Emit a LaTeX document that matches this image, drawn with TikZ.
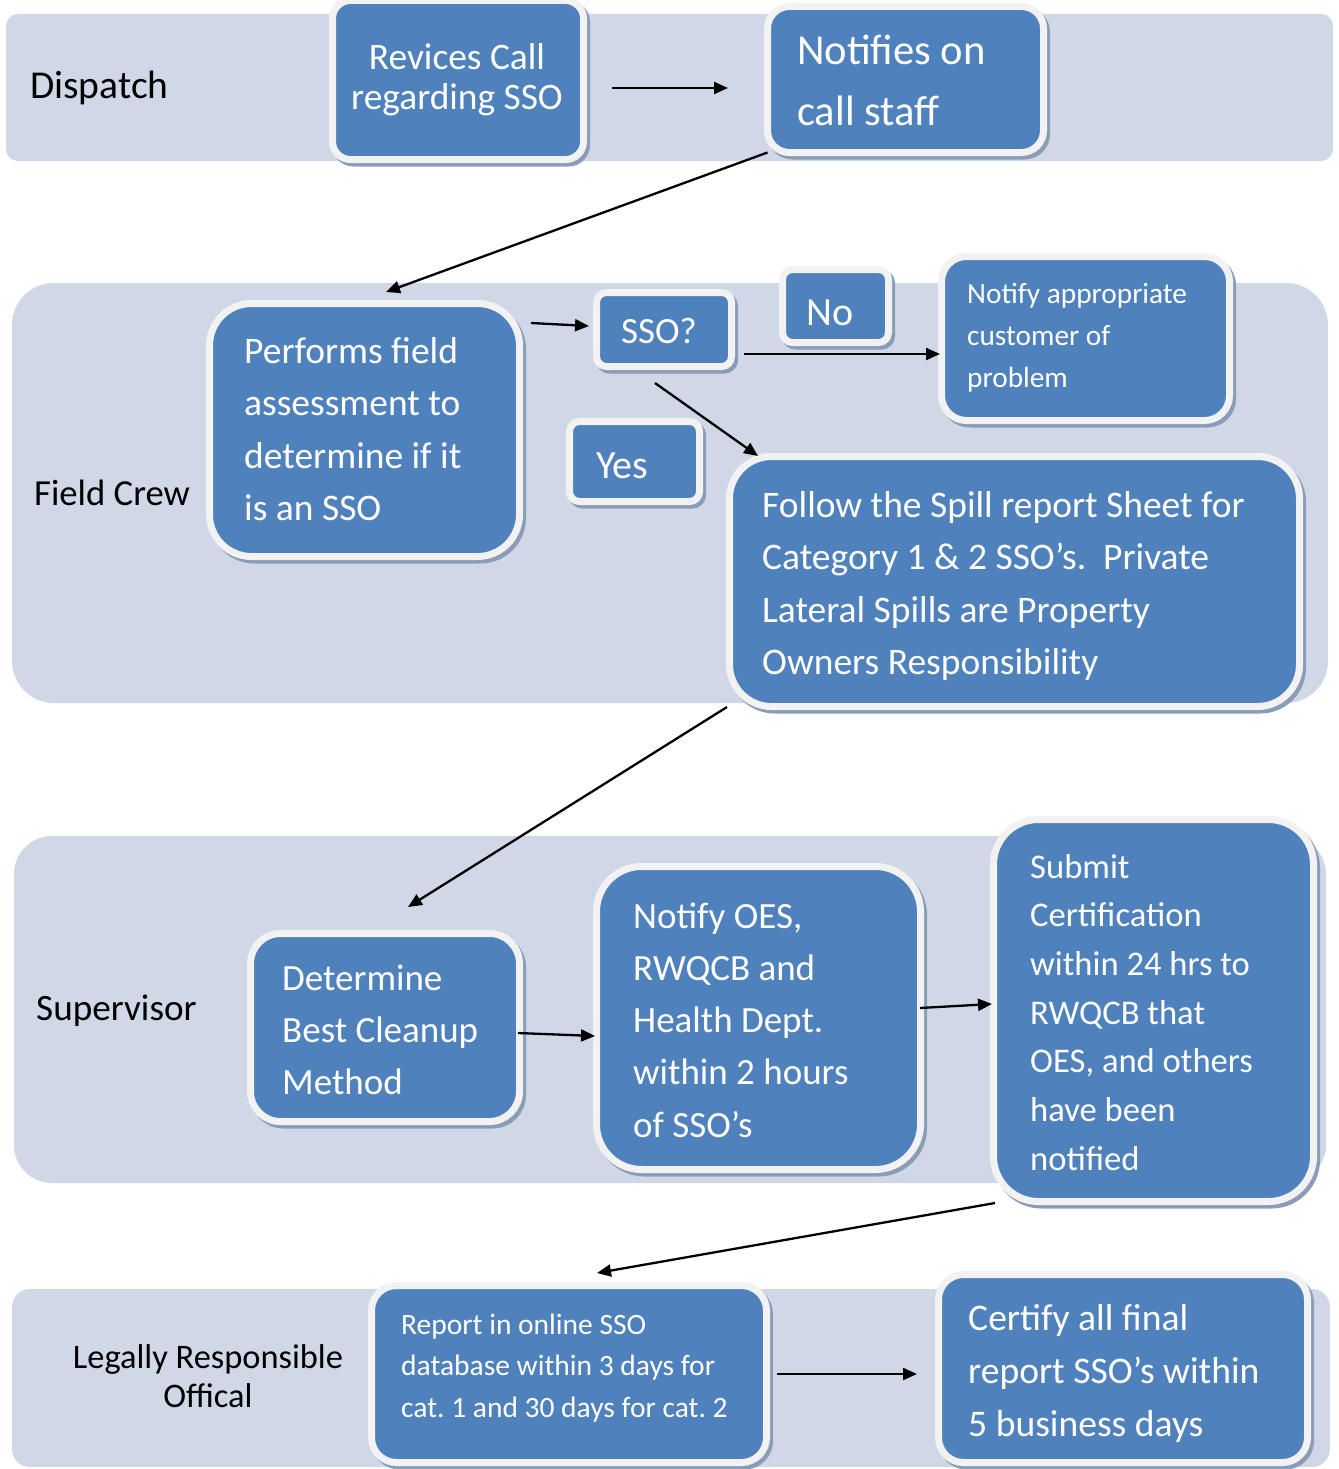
\documentclass[tikz,border=0pt]{standalone}
\usepackage{fontspec}
\setmainfont{Carlito}
\usetikzlibrary{arrows.meta,calc}
\definecolor{lanec}{HTML}{D0D8E8}
\definecolor{boxc}{HTML}{4F81BD}
\definecolor{rimc}{HTML}{F2F2F2}
\definecolor{shc}{HTML}{8B9CB6}
\tikzset{
  lanest/.style={fill=lanec},
  boxst/.style={draw=rimc, fill=boxc, line width=7pt, inner sep=0pt, outer sep=0pt},
  shadowst/.style={draw=shc, fill=shc, line width=7pt},
  arr/.style={-{Triangle[length=14pt,width=12pt]}, line width=2.3pt, black},
  lbl/.style={inner sep=0pt, text=black},
  btxt/.style={inner sep=0pt, text=white},
}
\newcommand\flowbox[6]{%
  \draw[shadowst, rounded corners=#6] ($(#2,#3)+(3,3.5)$) rectangle ($(#4,#5)+(3,3.5)$);
  \node[boxst, rounded corners=#6, minimum width={#4-#2}, minimum height={#5-#3}] (#1) at ({(#2+#4)/2},{(#3+#5)/2}) {};%
}
\newcommand\fz[2]{\fontsize{#1pt}{#2pt}\selectfont}
\frenchspacing
\begin{document}
\begin{tikzpicture}[x=1pt,y=-1pt]
\useasboundingbox (0,0) rectangle (1338,1469);
% lanes
\fill[lanest, rounded corners=12] (6,14) rectangle (1333,161);
\fill[lanest, rounded corners=42] (12,283) rectangle (1328,703);
\fill[lanest, rounded corners=38] (14,836) rectangle (1326,1183);
\fill[lanest, rounded corners=18] (12,1289) rectangle (1330,1467);
% lane labels
\node[lbl, anchor=base west, font=\fz{39.5}{47}] (ldisp) at (30,99) {Dispatch};
\node[lbl, anchor=base west, font=\fz{36.7}{42}] (lfield) at (34,505) {Field Crew};
\node[lbl, anchor=base west, font=\fz{37.2}{43}] (lsup) at (36,1020) {Supervisor};
\node[lbl, anchor=base, font=\fz{34.4}{39}] (llegal) at (208,1368) {\begin{tabular}[t]{@{}c@{}}Legally Responsible\\Offical\end{tabular}};
% boxes
\flowbox{rev}{332.5}{0.5}{583.5}{159.5}{18}
\flowbox{notif}{767.5}{6.5}{1043.5}{152.5}{22}
\flowbox{perf}{209.5}{303.5}{519.5}{556.5}{42}
\flowbox{sso}{596.5}{292.5}{731.5}{366.5}{10}
\flowbox{no}{782.5}{269.5}{888.5}{342.5}{10}
\flowbox{notapp}{941.5}{256.5}{1229.5}{420.5}{25}
\flowbox{yes}{569.5}{421.5}{699.5}{501.5}{10}
\flowbox{follow}{729.5}{456.5}{1299.5}{706.5}{42}
\flowbox{det}{250.5}{933.5}{519.5}{1121.5}{30}
\flowbox{oes}{596.5}{866.5}{920.5}{1169.5}{45}
\flowbox{sub}{993.5}{819.5}{1313.5}{1201.5}{45}
\flowbox{rep}{371.5}{1285.5}{766.5}{1462.5}{25}
\flowbox{cert}{938.5}{1274.5}{1307.5}{1462.5}{25}
% box texts
\node[btxt, anchor=base, font=\fz{37.4}{40}] (trev) at (457,70) {\begin{tabular}[t]{@{}c@{}}Revices Call\\regarding SSO\end{tabular}};
\node[btxt, anchor=base west, font=\fz{42.6}{61}] (tnotif) at (797,65) {\begin{tabular}[t]{@{}l@{}}Notifies on\\call staff\end{tabular}};
\node[btxt, anchor=base west, font=\fz{37.5}{52.5}] (tperf) at (244,363) {\begin{tabular}[t]{@{}l@{}}Performs field\\assessment to\\determine if it\\is an SSO\end{tabular}};
\node[btxt, anchor=base, font=\fz{37}{44}] (tsso) at (659,343) {SSO?};
\node[btxt, anchor=base, font=\fz{40}{48}] (tno) at (830,325) {No};
\node[btxt, anchor=base west, font=\fz{40}{48}] (tyes) at (596,478) {Yes};
\node[btxt, anchor=base west, font=\fz{29.3}{42}] (tnotapp) at (967,303) {\begin{tabular}[t]{@{}l@{}}Notify appropriate\\customer of\\problem\end{tabular}};
\node[btxt, anchor=base west, font=\fz{37.5}{52.5}] (tfollow) at (762,517) {\begin{tabular}[t]{@{}l@{}}Follow the Spill report Sheet for\\Category 1 \& 2 SSO’s.\ \ Private\\Lateral Spills are Property\\Owners Responsibility\end{tabular}};
\node[btxt, anchor=base west, font=\fz{37}{52}] (tdet) at (282,990) {\begin{tabular}[t]{@{}l@{}}Determine\\Best Cleanup\\Method\end{tabular}};
\node[btxt, anchor=base west, font=\fz{37}{52.3}] (toes) at (633,928) {\begin{tabular}[t]{@{}l@{}}Notify OES,\\RWQCB and\\Health Dept.\\within 2 hours\\of SSO’s\end{tabular}};
\node[btxt, anchor=base west, font=\fz{34.6}{48.7}] (tsub) at (1030,878) {\begin{tabular}[t]{@{}l@{}}Submit\\Certification\\within 24 hrs to\\RWQCB that\\OES, and others\\have been\\notified\end{tabular}};
\node[btxt, anchor=base west, font=\fz{29.5}{41.5}] (trep) at (401,1334) {\begin{tabular}[t]{@{}l@{}}Report in online SSO\\database within 3 days for\\cat. 1 and 30 days for cat. 2\end{tabular}};
\node[btxt, anchor=base west, font=\fz{37.6}{53}] (tcert) at (968,1330) {\begin{tabular}[t]{@{}l@{}}Certify all final\\report SSO’s within\\5 business days\end{tabular}};
% connectors
\draw[arr] ($(rev.east)+(28.5,8)$) -- ($(notif.west)+(-39.5,8.5)$);
\draw[arr] (notif.south west) -- ($(perf.north)+(21.5,-11.5)$);
\draw[arr] ($(perf.north east)+(11.5,19.5)$) -- ($(sso.west)+(-7.5,-3.5)$);
\draw[arr] ($(sso.east)+(12.5,24.5)$) -- ($(notapp.west)+(-1.5,15.5)$);
\draw[arr] ($(sso.south)+(-9,16.5)$) -- ($(follow.north west)+(28.5,-0.5)$);
\draw[arr] ($(follow.south west)+(-2.5,0.5)$) -- ($(det.north)+(23,-26.5)$);
\draw[arr] ($(det.east)+(-1.5,5.5)$) -- ($(oes.west)+(-1.5,18)$);
\draw[arr] ($(oes.east)+(-0.5,-10)$) -- ($(sub.west)+(-1.5,-6.5)$);
\draw[arr] ($(sub.south west)+(1.5,1.5)$) -- ($(rep.north)+(28,-12.5)$);
\draw[arr] ($(rep.east)+(10.5,0)$) -- ($(cert.west)+(-21.5,5.5)$);
\end{tikzpicture}
\end{document}
